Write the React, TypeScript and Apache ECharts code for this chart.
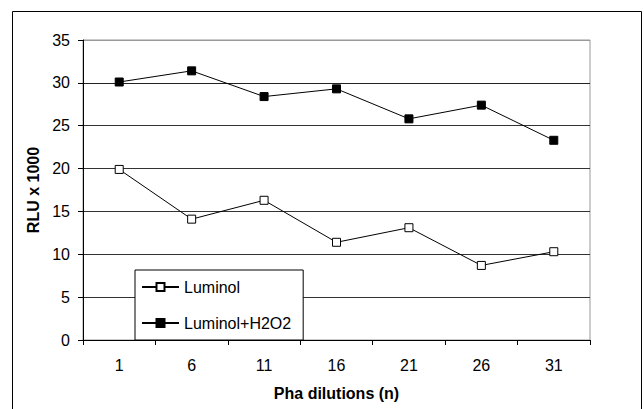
import React, { useEffect, useRef } from "react";
import * as echarts from "echarts";

const categories = ["1", "6", "11", "16", "21", "26", "31"];
const luminol = [19.9, 14.1, 16.3, 11.4, 13.1, 8.7, 10.3];
const luminolH2O2 = [30.1, 31.4, 28.4, 29.3, 25.8, 27.4, 23.3];
const seriesNames = ["Luminol", "Luminol+H2O2"];
const xTitle = "Pha dilutions (n)";
const yTitle = "RLU x 1000";

export default function App() {
  const ref = useRef<HTMLDivElement>(null);
  useEffect(() => {
    if (!ref.current) return;
    const chart = echarts.init(ref.current, null, { renderer: "svg" });
    const font = "'Liberation Sans', Arial, sans-serif";
    chart.setOption({
      animation: false,
      backgroundColor: "#fff",
      textStyle: { fontFamily: font },
      graphic: [
        {
          type: "rect",
          shape: { x: 12.5, y: 11.5, width: 629, height: 420 },
          style: { fill: "none", stroke: "#000", lineWidth: 1 },
          silent: true,
          z: -1,
        },
      ],
      grid: {
        left: 83,
        right: 54,
        top: 40,
        bottom: 69,
        show: true,
        borderColor: "#999",
        borderWidth: 1,
        backgroundColor: "transparent",
      },
      legend: {
        orient: "vertical",
        left: 135,
        top: 270,
        padding: [9, 12, 9, 6],
        itemWidth: 37,
        itemHeight: 10,
        itemGap: 20,
        backgroundColor: "#fff",
        borderColor: "#000",
        borderWidth: 1,
        textStyle: { fontSize: 16, color: "#000", fontFamily: font },
        data: seriesNames,
      },
      xAxis: {
        type: "category",
        data: categories,
        boundaryGap: true,
        name: xTitle,
        nameLocation: "middle",
        nameGap: 45,
        nameTextStyle: { fontSize: 16, fontWeight: "bold", color: "#000", fontFamily: font },
        axisLine: { lineStyle: { color: "#000", width: 1 } },
        axisTick: { show: true, length: 5, lineStyle: { color: "#000" } },
        axisLabel: { fontSize: 16, color: "#000", margin: 17, fontFamily: font },
        splitLine: { show: false },
      },
      yAxis: {
        type: "value",
        min: 0,
        max: 35,
        interval: 5,
        name: yTitle,
        nameLocation: "middle",
        nameGap: 41,
        nameTextStyle: { fontSize: 16, fontWeight: "bold", color: "#000", fontFamily: font },
        axisLine: { show: true, lineStyle: { color: "#000", width: 1 } },
        axisTick: { show: true, length: 5, lineStyle: { color: "#000" } },
        axisLabel: { fontSize: 16, color: "#000", margin: 13, fontFamily: font },
        splitLine: {
          show: true,
          lineStyle: {
            color: ["#000", "#333", "#333", "#333", "#333", "#333", "#222", "#999"],
            width: 1,
          },
        },
      },
      series: [
        {
          name: seriesNames[0],
          type: "line",
          data: luminol,
          symbol: "rect",
          symbolSize: 8,
          lineStyle: { color: "#000", width: 1 },
          itemStyle: { color: "#fff", borderColor: "#000", borderWidth: 1 },
        },
        {
          name: seriesNames[1],
          type: "line",
          data: luminolH2O2,
          symbol: "rect",
          symbolSize: 8,
          lineStyle: { color: "#000", width: 1 },
          itemStyle: { color: "#000", borderColor: "#000", borderWidth: 1 },
        },
      ],
    });
    return () => chart.dispose();
  }, []);
  return (
    <div
      ref={ref}
      style={{ position: "fixed", left: 0, top: 0, width: 644, height: 409 }}
    />
  );
}
